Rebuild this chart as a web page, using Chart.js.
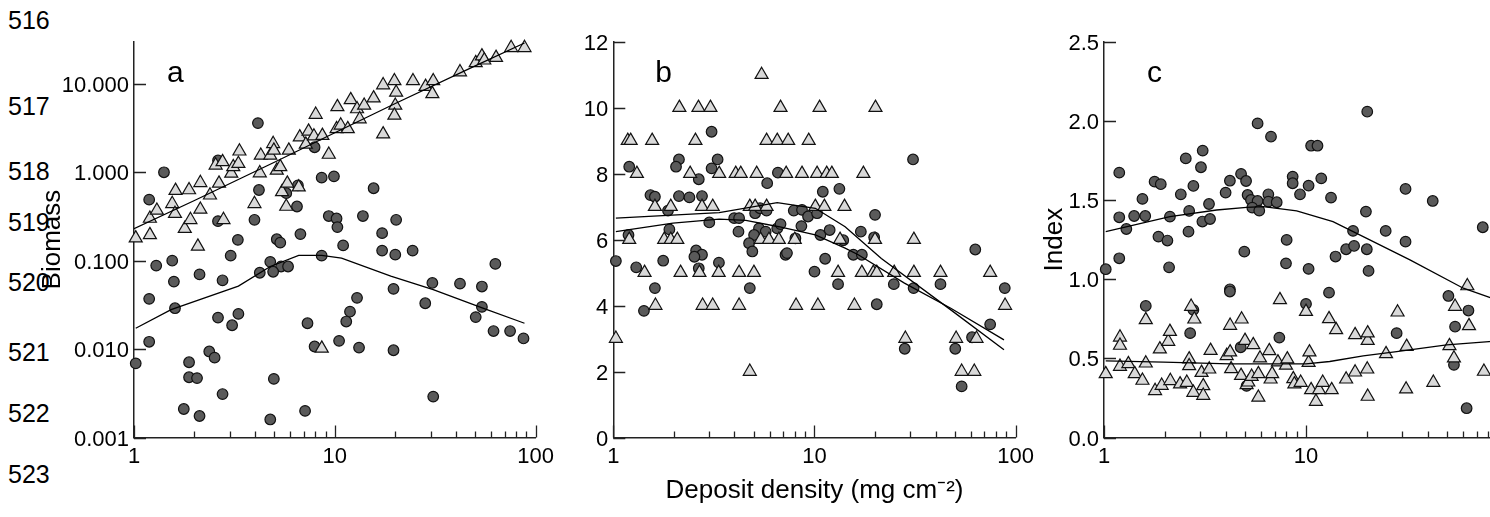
<!DOCTYPE html>
<html>
<head>
<meta charset="utf-8">
<script src="https://cdn.jsdelivr.net/npm/chart.js@4.4.1/dist/chart.umd.min.js"></script>
<style>
  html, body { margin: 0; padding: 0; background: #fff; }
  body { width: 1490px; height: 517px; overflow: hidden; position: relative; font-family: 'Liberation Sans', Arial, sans-serif; }
  canvas { position: absolute; top: 0; }
  #painelA { left: 0; }
  #painelB { left: 560px; }
  #painelC { left: 1000px; }
  .linha { position: absolute; left: 8px; font-size: 25px; line-height: 25px; color: #000; }
</style>
</head>
<body>
<div class="linha" style="top:8px">516</div>
<div class="linha" style="top:94px">517</div>
<div class="linha" style="top:159px">518</div>
<div class="linha" style="top:210px">519</div>
<div class="linha" style="top:270px">520</div>
<div class="linha" style="top:340px">521</div>
<div class="linha" style="top:401px">522</div>
<div class="linha" style="top:462px">523</div>
<canvas id="painelA" width="560" height="517"></canvas>
<canvas id="painelB" width="480" height="517"></canvas>
<canvas id="painelC" width="540" height="517"></canvas>
<script>
// Eixo x comum (densidade de depósito, escala log)
const xMarcas = [1, 2, 3, 4, 5, 6, 7, 8, 9, 10, 20, 30, 40, 50, 60, 70, 80, 90, 100];
const xRotulos = [1, 10, 100];

// Painel a - biomassa (escala log)
const aYTicks = [0.001, 0.01, 0.1, 1, 10];
const aTriX = [1.02, 1.20, 1.20, 1.30, 1.55, 1.60, 1.61, 1.79, 1.91, 1.88, 2.08, 2.14, 2.14, 2.39, 2.55, 2.65, 2.76, 2.79, 3.05, 3.12, 3.31, 3.35, 3.98, 4.23, 4.28, 4.77, 4.93, 4.97, 5.14, 5.35, 5.46, 5.80, 5.73, 5.9, 6.61, 6.69, 7.17, 7.40, 7.87, 8.03, 8.67, 9.33, 10.2, 10.7, 10.3, 11.6, 12.0, 12.9, 13.3, 14.0, 15.6, 17.4, 17.4, 19.8, 20.2, 20.0, 19.8, 24.5, 28.3, 30.9, 30.6, 42, 50.3, 54, 55.5, 63.5, 75.5, 88, 8.61];
const aTriY = [0.18, 0.196, 0.30, 0.37, 0.44, 0.34, 0.62, 0.23, 0.29, 0.63, 0.145, 0.38, 0.76, 0.55, 1.2, 0.75, 1.31, 0.29, 0.97, 1.15, 1.25, 1.73, 0.44, 0.98, 1.55, 1.55, 2.1, 1.77, 1.05, 1.15, 0.60, 0.75, 0.41, 1.77, 0.68, 2.5, 2.07, 2.9, 2.56, 4.5, 2.6, 1.59, 3.1, 3.4, 5.5, 3.1, 6.6, 5.2, 4.0, 5.7, 6.9, 9.7, 2.7, 10.8, 8.0, 5.7, 4.4, 10.8, 9.3, 10.8, 7.7, 13.6, 17.3, 20.6, 18.5, 19.8, 25.6, 25.6, 0.0102];
const aCirX = [4.14, 1.41, 1.19, 7.93, 8.6, 9.9, 4.19, 2.62, 6.55, 5.73, 6.48, 15.6, 2.62, 3.98, 9.33, 10.2, 10.3, 13.8, 20.2, 17.2, 6.74, 3.29, 5.14, 5.35, 11.0, 17.2, 20.0, 24.4, 8.6, 3.03, 1.55, 4.77, 63, 1.29, 5.4, 5.85, 4.93, 4.23, 1.58, 2.12, 2.76, 1.19, 1.60, 2.62, 3.31, 3.08, 7.31, 12.9, 11.9, 11.4, 10.5, 13.2, 7.93, 19.6, 19.6, 30.6, 28.2, 42, 54, 54, 50.3, 61.7, 74.6, 87, 1.19, 1.02, 2.37, 2.52, 1.88, 1.88, 2.06, 4.97, 2.76, 1.77, 2.12, 4.77, 7.11, 30.9];
const aCirY = [3.6, 1.0, 0.49, 1.92, 0.87, 0.90, 0.63, 1.36, 0.71, 0.58, 0.41, 0.66, 0.28, 0.29, 0.32, 0.30, 0.24, 0.32, 0.29, 0.205, 0.20, 0.172, 0.175, 0.16, 0.149, 0.13, 0.117, 0.13, 0.114, 0.114, 0.10, 0.097, 0.092, 0.088, 0.086, 0.086, 0.075, 0.073, 0.058, 0.07, 0.06, 0.037, 0.029, 0.0227, 0.025, 0.0186, 0.0196, 0.038, 0.0265, 0.0205, 0.0124, 0.0104, 0.0107, 0.048, 0.0097, 0.056, 0.033, 0.055, 0.051, 0.030, 0.023, 0.016, 0.016, 0.0132, 0.0121, 0.0069, 0.0094, 0.008, 0.0071, 0.0048, 0.0047, 0.0046, 0.0031, 0.0021, 0.00175, 0.0016, 0.002, 0.0029];
const aLinhaTriX = [1, 2, 5, 10, 20, 50, 88];
const aLinhaTriY = [0.23, 0.48, 1.3, 2.8, 6.0, 16, 29];
const aLinhaCirX = [1.02, 1.53, 3.31, 4.77, 6.61, 8.6, 10.8, 19, 30.9, 54.6, 88];
const aLinhaCirY = [0.0172, 0.028, 0.0515, 0.086, 0.115, 0.115, 0.107, 0.067, 0.047, 0.029, 0.0196];

// Painel b
const bYTicks = [0, 2, 4, 6, 8, 10, 12];
const bTriX = [5.46, 2.13, 2.65, 3.04, 6.78, 10.6, 20.1, 1.18, 1.22, 1.56, 2.56, 5.78, 6.53, 7.40, 9.36, 1.31, 2.41, 3.36, 4.06, 4.30, 5.16, 7.23, 8.67, 10.3, 11.5, 12.2, 17.5, 1.61, 1.93, 2.76, 3.12, 4.77, 5.07, 5.78, 10.1, 11.2, 14.1, 1.2, 1.79, 1.93, 2.08, 5.4, 5.94, 6.65, 7.98, 13.4, 20, 31.2, 1.43, 2.16, 2.68, 3.34, 4.22, 5.0, 13.1, 17.2, 19.6, 20.4, 24.9, 31.2, 42.3, 74.7, 1.62, 2.78, 3.12, 4.22, 8.1, 10.4, 15.8, 88.6, 1.03, 28.3, 50.6, 63.9, 4.77, 53.9, 62.3];
const bTriY = [11, 10, 10, 10, 10, 10, 10, 9, 9, 9, 9, 9, 9, 9, 9, 8, 8, 8, 8, 8, 8, 8, 8, 8, 8, 8, 8, 7, 7, 7, 7, 7, 7, 7, 7, 7, 7, 6, 6, 6, 6, 6, 6, 6, 6, 6, 6, 6, 5, 5, 5, 5, 5, 5, 5, 5, 5, 5, 5, 5, 5, 5, 4, 4, 4, 4, 4, 4, 4, 4, 3, 3, 3, 3, 2, 2, 2];
const bCirX = [3.08, 1.2, 2.12, 2.05, 3.3, 3.08, 2.66, 6.58, 5.82, 11.0, 13.3, 30.9, 1.53, 1.61, 2.12, 2.39, 2.76, 1.87, 3.0, 3.99, 4.22, 5.07, 5.36, 5.78, 7.89, 8.67, 9.29, 10.3, 20, 1.9, 4.19, 5.3, 5.72, 6.53, 6.78, 8.61, 10.7, 11.9, 17.0, 1.19, 5.01, 8.04, 13.9, 19.8, 4.73, 4.91, 2.58, 2.76, 7.18, 7.3, 11.3, 15.6, 17.2, 63, 1.03, 1.77, 3.35, 1.30, 2.53, 2.66, 10.0, 1.61, 1.42, 4.77, 13.1, 20.4, 24.8, 31.1, 42.3, 88.3, 74.7, 28.1, 50.1, 60.7, 53.9];
const bCirY = [9.27, 8.21, 8.43, 8.21, 8.43, 8.16, 7.83, 8.03, 7.71, 7.45, 7.54, 8.43, 7.35, 7.30, 7.32, 7.28, 7.32, 6.88, 6.52, 6.65, 6.65, 6.80, 6.95, 6.88, 6.88, 6.90, 6.70, 6.80, 6.75, 6.31, 6.24, 6.34, 6.24, 6.34, 6.47, 6.41, 6.14, 6.29, 6.24, 6.14, 6.14, 6.04, 5.98, 6.07, 5.89, 5.64, 5.67, 5.54, 5.54, 5.59, 5.42, 5.54, 5.54, 5.70, 5.35, 5.36, 5.30, 5.16, 5.48, 5.13, 5.03, 4.53, 3.84, 4.53, 4.65, 4.04, 4.65, 4.53, 4.65, 4.53, 3.43, 2.69, 2.69, 3.04, 1.55];
const bLinhaTriX = [1.03, 3.36, 6.53, 10.1, 14.2, 21.5, 47.6, 87.5];
const bLinhaTriY = [6.65, 6.82, 7.12, 6.95, 6.39, 5.43, 3.87, 2.66];
const bLinhaCirX = [1.03, 1.98, 3.36, 4.56, 6.65, 10.1, 14.2, 16.5, 28, 47.6, 87.5];
const bLinhaCirY = [6.24, 6.5, 6.62, 6.58, 6.39, 6.14, 5.74, 5.54, 4.68, 3.92, 2.96];

// Painel c - índice
const cYTicks = [0, 0.5, 1, 1.5, 2, 2.5];
const cTriX = [1.02, 1.2, 1.2, 1.2, 1.32, 1.42, 1.55, 1.61, 1.61, 1.79, 1.89, 1.93, 2.08, 2.12, 2.13, 2.38, 2.57, 2.64, 2.64, 2.7, 2.77, 2.8, 3.04, 3.1, 3.1, 3.32, 3.37, 4.05, 4.21, 4.21, 4.26, 4.77, 4.8, 4.99, 5.08, 5.18, 5.38, 5.48, 5.81, 5.81, 5.92, 6.58, 6.68, 6.8, 7.26, 7.43, 7.96, 8.08, 8.65, 8.76, 9.41, 10.3, 10.4, 10, 10.6, 11.2, 11.6, 12.1, 13.0, 13.4, 14.1, 15.8, 17.5, 17.5, 20.1, 20.2, 20.2, 20.2, 24.9, 28.4, 31.3, 31.5, 42.7, 51.3, 54, 54.7, 62.9, 64.1, 76];
const cTriY = [0.402, 0.633, 0.581, 0.448, 0.465, 0.402, 0.36, 0.743, 0.469, 0.295, 0.558, 0.328, 0.606, 0.669, 0.358, 0.337, 0.347, 0.495, 0.452, 0.827, 0.284, 0.747, 0.41, 0.326, 0.265, 0.431, 0.549, 0.516, 0.539, 0.707, 0.433, 0.391, 0.747, 0.612, 0.332, 0.349, 0.385, 0.585, 0.402, 0.253, 0.501, 0.547, 0.368, 0.402, 0.476, 0.869, 0.455, 0.495, 0.37, 0.337, 0.347, 0.473, 0.539, 0.795, 0.301, 0.227, 0.301, 0.347, 0.749, 0.301, 0.68, 0.368, 0.648, 0.412, 0.431, 0.612, 0.659, 0.259, 0.528, 0.791, 0.305, 0.574, 0.347, 0.579, 0.501, 0.827, 0.957, 0.705, 0.417];
const cCirX = [1.19, 5.76, 6.71, 20.1, 10.6, 11.4, 3.08, 3.02, 2.54, 11.9, 4.77, 5.05, 4.2, 1.78, 1.91, 2.77, 8.59, 8.59, 10.3, 9.34, 4.0, 2.4, 3.31, 1.55, 5.14, 5.34, 5.76, 6.51, 6.51, 7.16, 5.42, 5.87, 13.3, 31.1, 42.4, 75, 2.64, 1.19, 1.41, 1.6, 2.12, 3.07, 3.35, 1.29, 19.8, 17.1, 24.8, 2.62, 1.86, 2.06, 8.02, 31.1, 15.8, 17.3, 20, 4.95, 14.0, 1.19, 7.96, 1.02, 2.1, 10.3, 20.4, 13.0, 4.2, 4.2, 1.61, 2.77, 2.67, 10, 50.7, 63.7, 54.7, 28.1, 7.38, 4.75, 5.08, 54, 62.4];
const cCirY = [1.673, 1.984, 1.90, 2.058, 1.843, 1.843, 1.812, 1.707, 1.763, 1.637, 1.665, 1.62, 1.622, 1.616, 1.60, 1.589, 1.648, 1.606, 1.591, 1.536, 1.547, 1.536, 1.475, 1.507, 1.532, 1.50, 1.494, 1.536, 1.49, 1.486, 1.452, 1.433, 1.515, 1.57, 1.494, 1.328, 1.431, 1.391, 1.399, 1.399, 1.395, 1.364, 1.38, 1.317, 1.427, 1.305, 1.305, 1.30, 1.269, 1.244, 1.248, 1.237, 1.189, 1.21, 1.189, 1.174, 1.143, 1.132, 1.10, 1.063, 1.075, 1.065, 1.052, 0.915, 0.936, 0.922, 0.831, 0.806, 0.659, 0.844, 0.894, 0.802, 0.70, 0.659, 0.631, 0.570, 0.326, 0.459, 0.185];
const cLinhaCirX = [1.02, 2.12, 3.61, 5.08, 6.15, 8.99, 13.6, 19.2, 32.7, 60.1, 90];
const cLinhaCirY = [1.30, 1.395, 1.437, 1.454, 1.458, 1.431, 1.364, 1.269, 1.122, 0.943, 0.865];
const cLinhaTriX = [1.02, 1.97, 4.2, 10, 13.1, 19.2, 28.1, 49.7, 90];
const cLinhaTriY = [0.484, 0.476, 0.465, 0.465, 0.48, 0.516, 0.543, 0.585, 0.61];

const FONTE = "'Liberation Sans', Arial, sans-serif";
Chart.defaults.font.family = FONTE;
Chart.defaults.color = '#000';

// Marcas dos eixos voltadas para dentro
const marcasInternas = {
    id: 'marcasInternas',
    afterDraw(chart) {
        const {ctx, chartArea, scales} = chart;
        ctx.save();
        ctx.strokeStyle = '#222';
        ctx.lineWidth = 1.3;
        ctx.beginPath();
        scales.y.ticks.forEach(function(t) {
            const py = Math.round(scales.y.getPixelForValue(t.value)) + 0.5;
            ctx.moveTo(chartArea.left, py);
            ctx.lineTo(chartArea.left + 12, py);
        });
        scales.x.ticks.forEach(function(t) {
            const px = Math.round(scales.x.getPixelForValue(t.value)) + 0.5;
            const maior = xRotulos.includes(t.value);
            ctx.moveTo(px, chartArea.bottom);
            ctx.lineTo(px, chartArea.bottom - (maior ? 12 : 6));
        });
        ctx.stroke();
        ctx.restore();
    }
};

// Letra do painel (a, b, c)
const letraPainel = {
    id: 'letraPainel',
    afterDraw(chart, args, opts) {
        if (!opts.texto) return;
        const {ctx, chartArea} = chart;
        ctx.save();
        ctx.font = '30px ' + FONTE;
        ctx.fillStyle = '#000';
        ctx.textBaseline = 'alphabetic';
        ctx.fillText(opts.texto, chartArea.left + opts.dx, chartArea.top + opts.dy);
        ctx.restore();
    }
};

Chart.register(marcasInternas, letraPainel);

function pontos(xs, ys) {
    return xs.map(function(x, i) { return {x: x, y: ys[i]}; });
}

function linha(xs, ys) {
    return {
        data: pontos(xs, ys),
        showLine: true,
        pointRadius: 0,
        borderColor: '#000',
        borderWidth: 1.3,
        tension: 0,
        fill: false,
        order: 0
    };
}

function criarPainel(id, cfg) {
    const ctx = document.getElementById(id).getContext('2d');

    return new Chart(ctx, {
        type: 'scatter',
        data: {
            datasets: [
                linha(cfg.linhaTri[0], cfg.linhaTri[1]),
                linha(cfg.linhaCir[0], cfg.linhaCir[1]),
                {
                    data: pontos(cfg.triX, cfg.triY),
                    pointStyle: 'triangle',
                    pointRadius: 7.5,
                    backgroundColor: '#d9d9d9',
                    borderColor: '#111',
                    borderWidth: 1.2,
                    clip: false,
                    order: 1
                },
                {
                    data: pontos(cfg.cirX, cfg.cirY),
                    pointStyle: 'circle',
                    pointRadius: 5.3,
                    backgroundColor: '#5a5a5a',
                    borderColor: '#111',
                    borderWidth: 1.2,
                    clip: false,
                    order: 2
                }
            ]
        },
        options: {
            responsive: false,
            animation: false,
            events: [],
            layout: {
                padding: {left: 0, top: 41.7, right: cfg.padDireita, bottom: 0}
            },
            plugins: {
                legend: {display: false},
                tooltip: {enabled: false},
                letraPainel: cfg.letra
            },
            scales: {
                x: {
                    type: 'logarithmic',
                    min: 1,
                    max: 100,
                    afterBuildTicks: function(s) {
                        s.ticks = xMarcas.map(function(v) { return {value: v}; });
                    },
                    afterFit: function(s) { s.height = 79.5; },
                    grid: {display: false, drawTicks: false},
                    border: {display: true, color: '#222', width: 1.5},
                    ticks: {
                        autoSkip: false,
                        maxRotation: 0,
                        padding: 6,
                        font: {size: 22},
                        color: '#000',
                        callback: function(v) {
                            return xRotulos.includes(v) ? String(v) : '';
                        }
                    },
                    title: cfg.tituloX || {display: false}
                },
                y: {
                    type: cfg.tipoY,
                    min: cfg.minY,
                    max: cfg.maxY,
                    afterBuildTicks: function(s) {
                        s.ticks = cfg.yTicks.map(function(v) { return {value: v}; });
                    },
                    afterFit: function(s) { s.width = cfg.larguraY; },
                    grid: {display: false, drawTicks: false},
                    border: {display: true, color: '#222', width: 1.5},
                    ticks: {
                        autoSkip: false,
                        padding: 5,
                        labelOffset: 2,
                        font: {size: 22},
                        color: '#000',
                        callback: function(v) {
                            return v.toFixed(cfg.casas);
                        }
                    },
                    title: cfg.tituloY || {display: false}
                }
            }
        }
    });
}

document.addEventListener('DOMContentLoaded', function() {
    // Painel a
    criarPainel('painelA', {
        triX: aTriX, triY: aTriY, cirX: aCirX, cirY: aCirY,
        linhaTri: [aLinhaTriX, aLinhaTriY],
        linhaCir: [aLinhaCirX, aLinhaCirY],
        tipoY: 'logarithmic', minY: 0.001, maxY: 30, yTicks: aYTicks, casas: 3,
        larguraY: 134, padDireita: 21.7,
        letra: {texto: 'a', dx: 33, dy: 40},
        tituloY: {display: true, text: 'Biomass', font: {size: 26}, color: '#000', padding: {top: 37, bottom: 0}}
    });

    // Painel b
    criarPainel('painelB', {
        triX: bTriX, triY: bTriY, cirX: bCirX, cirY: bCirY,
        linhaTri: [bLinhaTriX, bLinhaTriY],
        linhaCir: [bLinhaCirX, bLinhaCirY],
        tipoY: 'linear', minY: 0, maxY: 12, yTicks: bYTicks, casas: 0,
        larguraY: 53.3, padDireita: 21.7,
        letra: {texto: 'b', dx: 42, dy: 40},
        tituloX: {display: true, text: 'Deposit density (mg cm\u207B\u00B2)', font: {size: 26}, color: '#000', padding: {top: 0, bottom: 11}}
    });

    // Painel c (cortado na borda direita)
    criarPainel('painelC', {
        triX: cTriX, triY: cTriY, cirX: cCirX, cirY: cCirY,
        linhaTri: [cLinhaTriX, cLinhaTriY],
        linhaCir: [cLinhaCirX, cLinhaCirY],
        tipoY: 'linear', minY: 0, maxY: 2.5, yTicks: cYTicks, casas: 1,
        larguraY: 104, padDireita: 32,
        letra: {texto: 'c', dx: 43, dy: 40},
        tituloY: {display: true, text: 'Index', font: {size: 26}, color: '#000', padding: {top: 39, bottom: 0}}
    });
});
</script>
</body>
</html>
